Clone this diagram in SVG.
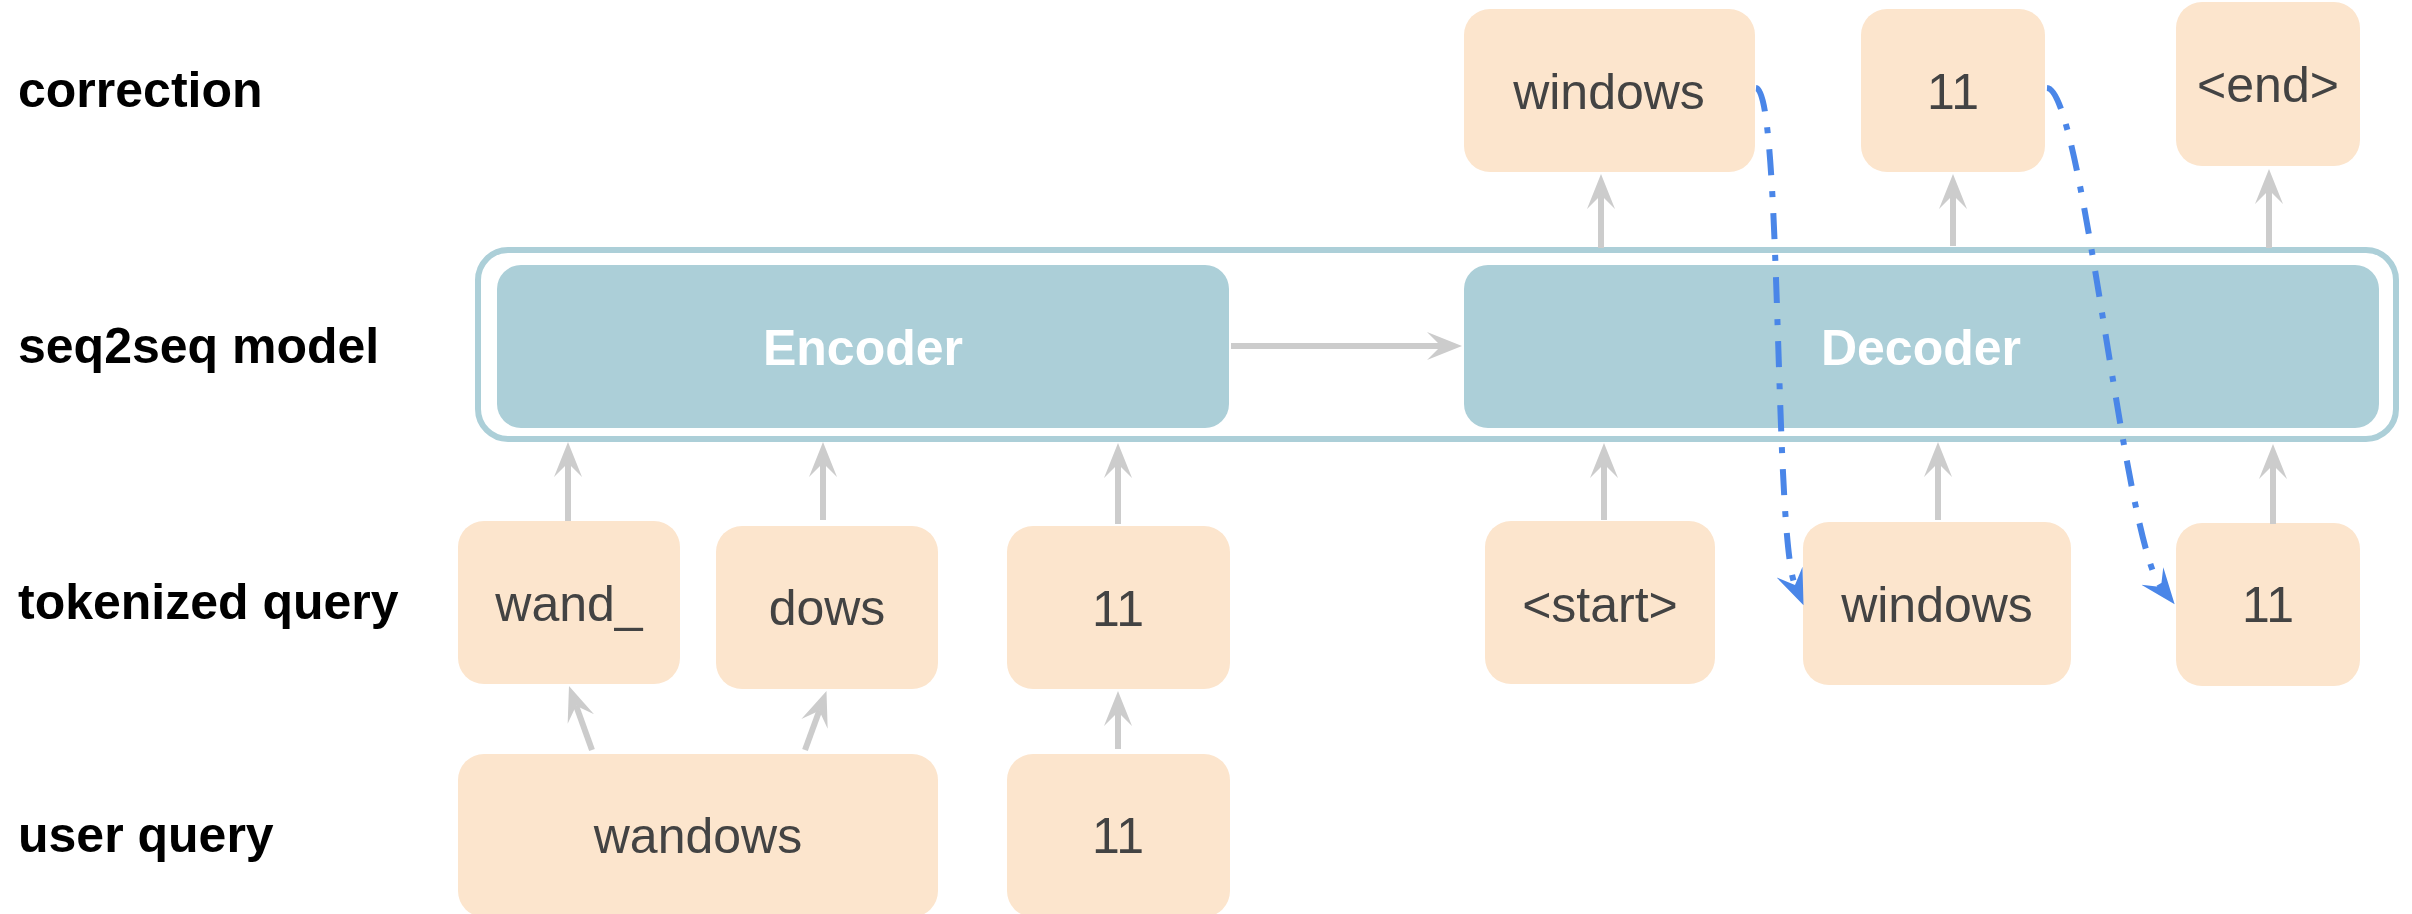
<svg xmlns="http://www.w3.org/2000/svg" width="2412" height="914" viewBox="0 0 2412 914">
<defs>
<style>
.lbl{font-family:"Liberation Sans",Arial,sans-serif;font-weight:bold;font-size:50px;fill:#000}
.tok{fill:#fce5cd}
.tt{font-family:"Liberation Sans",Arial,sans-serif;font-size:50px;fill:#434343;text-anchor:middle}
.blk{fill:#accfd8}
.bt{font-family:"Liberation Sans",Arial,sans-serif;font-weight:bold;font-size:50px;fill:#fff;text-anchor:middle}
.g{stroke:#cccccc;stroke-width:6;fill:none;marker-end:url(#ga)}
.b{stroke:#4a86e8;stroke-width:6;fill:none;stroke-dasharray:26 16 6 16;marker-end:url(#ba)}
</style>
<marker id="ga" markerUnits="userSpaceOnUse" markerWidth="40" markerHeight="32" viewBox="0 -16 40 32" refX="14" refY="0" orient="auto">
<path d="M0,-14 L35,0 L0,14 L14,0 Z" fill="#cccccc"/>
</marker>
<marker id="ba" markerUnits="userSpaceOnUse" markerWidth="40" markerHeight="32" viewBox="0 -16 40 32" refX="14" refY="0" orient="auto">
<path d="M0,-14 L36,0 L0,14 L14,0 Z" fill="#4a86e8"/>
</marker>
</defs>
<rect width="2412" height="914" fill="#fff"/>

<g id="row-labels">
<text class="lbl" x="18" y="107">correction</text>
<text class="lbl" x="18" y="363">seq2seq model</text>
<text class="lbl" x="18" y="619">tokenized query</text>
<text class="lbl" x="18" y="852">user query</text>
</g>

<g id="seq2seq-model">
<rect x="478" y="250" width="1918" height="189" rx="30" fill="none" stroke="#accfd8" stroke-width="6"/>
</g>
<g id="encoder">
<rect class="blk" x="497" y="265" width="732" height="163" rx="24"/>
<text class="bt" x="863" y="365">Encoder</text>
</g>
<g id="decoder">
<rect class="blk" x="1464" y="265" width="915" height="163" rx="24"/>
<text class="bt" x="1921" y="365">Decoder</text>
</g>

<g id="corr-windows"><rect class="tok" x="1464" y="9" width="291" height="163" rx="26"/><text class="tt" x="1609" y="109">windows</text></g>
<g id="corr-11"><rect class="tok" x="1861" y="9" width="184" height="163" rx="26"/><text class="tt" x="1953" y="109">11</text></g>
<g id="corr-end"><rect class="tok" x="2176" y="2" width="184" height="164" rx="26"/><text class="tt" x="2268" y="102">&lt;end&gt;</text></g>

<g id="tok-wand"><rect class="tok" x="458" y="521" width="222" height="163" rx="26"/><text class="tt" x="569" y="621">wand_</text></g>
<g id="tok-dows"><rect class="tok" x="716" y="526" width="222" height="163" rx="26"/><text class="tt" x="827" y="625">dows</text></g>
<g id="tok-11"><rect class="tok" x="1007" y="526" width="223" height="163" rx="26"/><text class="tt" x="1118" y="626">11</text></g>
<g id="dec-start"><rect class="tok" x="1485" y="521" width="230" height="163" rx="26"/><text class="tt" x="1600" y="622">&lt;start&gt;</text></g>
<g id="dec-windows"><rect class="tok" x="1803" y="522" width="268" height="163" rx="26"/><text class="tt" x="1937" y="622">windows</text></g>
<g id="dec-11"><rect class="tok" x="2176" y="523" width="184" height="163" rx="26"/><text class="tt" x="2268" y="622">11</text></g>

<g id="user-wandows"><rect class="tok" x="458" y="754" width="480" height="163" rx="26"/><text class="tt" x="698" y="853">wandows</text></g>
<g id="user-11"><rect class="tok" x="1007" y="754" width="223" height="163" rx="26"/><text class="tt" x="1118" y="853">11</text></g>

<g id="connectors">
<path class="g" d="M568,521 V463"/>
<path class="g" d="M823,520 V463"/>
<path class="g" d="M1118,524 V464"/>
<path class="g" d="M1604,520 V464"/>
<path class="g" d="M1938,520 V463"/>
<path class="g" d="M2273,524 V465"/>
<path class="g" d="M1601,248 V195"/>
<path class="g" d="M1953,246 V195"/>
<path class="g" d="M2269,248 V190"/>
<path class="g" d="M1231,346 H1441"/>
<path class="g" d="M592,750 L576.1,705.8"/>
<path class="g" d="M805,750 L819.3,710.7"/>
<path class="g" d="M1118,749 V712"/>
<path class="b" d="M1756,88 C1782,90 1774,535 1795,585"/>
<path class="b" d="M2047,88 C2083,90 2123,539 2161,587"/>
</g>
</svg>
